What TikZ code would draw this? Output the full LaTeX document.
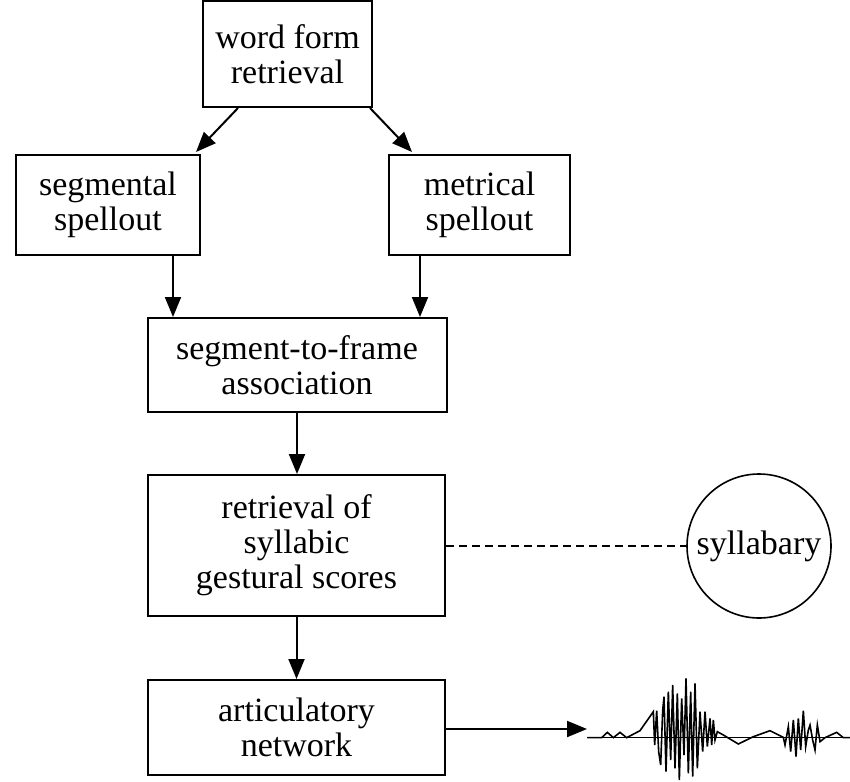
\documentclass[tikz,border=0pt]{standalone}
\usepackage{fontspec}
\setmainfont{Liberation Serif}
\usepackage{tikz}
\usetikzlibrary{positioning, arrows.meta, calc}

\tikzset{
    stagebox/.style={draw, line width=1pt, align=center, inner sep=0pt,
        font=\fontsize{17}{17.5}\selectfont},
    arr/.style={line width=1pt, -{Triangle[length=10pt, width=8pt]}},
}

\begin{document}
\begin{tikzpicture}[x=0.5pt, y=-0.5pt]
    \useasboundingbox (0, 0) rectangle (850, 781);

    % processing stages
    \node[stagebox, minimum width=84.5pt, minimum height=53pt] (wfr) at (287.5, 54) {word form\\retrieval};
    \node[stagebox, minimum width=92pt, minimum height=50pt] (seg) at (108, 205) {segmental\\spellout};
    \node[stagebox, minimum width=90.5pt, minimum height=50pt] (met) at (479.5, 205) {metrical\\spellout};
    \node[stagebox, minimum width=149.5pt, minimum height=47pt] (s2f) at (297, 365) {segment-to-frame\\association};
    \node[stagebox, minimum width=148.5pt, minimum height=70.5pt] (ret) at (296.5, 545.5) {retrieval of\\syllabic\\gestural scores};
    \node[stagebox, minimum width=148.5pt, minimum height=47.5pt] (art) at (296.5, 727.5) {articulatory\\network};
    \node[stagebox, circle, line width=0.8pt, minimum size=72pt] (syl) at (759, 546) {syllabary};

    % connections
    \draw[arr] ([xshift=-24.75pt]wfr.south) -- ([xshift=-2.5pt, yshift=1pt]seg.north east);
    \draw[arr] ([xshift=41.25pt]wfr.south) -- ([xshift=12pt, yshift=1pt]met.north west);
    \draw[arr] ([xshift=32.5pt]seg.south) -- ([xshift=32.5pt]seg.south |- s2f.north);
    \draw[arr] ([xshift=-29.75pt]met.south) -- ([xshift=-29.75pt]met.south |- s2f.north);
    \draw[arr] (s2f.south) -- (s2f.south |- ret.north);
    \draw[arr] (ret.south) -- (ret.south |- art.north);
    \draw[line width=0.8pt, dash pattern=on 4pt off 2.5pt] (ret.east |- syl.west) -- (syl.west);

    % speech wave
    \coordinate (wave) at (587, 729);
    \draw[arr] (art.east |- wave) -- (wave);
    \begin{scope}[shift={(580, 640)}, scale=1/3, line width=0.8pt]
        \draw (22, 293) -- (810, 293);
        \draw plot coordinates {(22,293) (65,293) (82,277) (100,293) (120,277) (140,293) (180,272) (220,215)
            (224,315) (230,212) (236,335) (242,375) (248,212) (252,170) (258,395) (265,155) (272,360)
            (278,135) (285,385) (292,160) (298,420) (305,175) (312,345) (318,115) (325,400) (332,155)
            (338,410) (345,130) (352,385) (360,215) (368,335) (375,215) (382,320) (390,235) (395,315)
            (400,240) (405,300) (412,275) (430,285) (475,312) (520,290) (570,272) (610,292) (615,315)
            (625,260) (632,335) (640,240) (648,350) (655,235) (662,330) (670,212) (677,320) (685,270)
            (690,255) (698,300) (705,330) (712,255) (720,305) (735,293) (770,277) (790,293) (810,293)};
    \end{scope}
\end{tikzpicture}
\end{document}
